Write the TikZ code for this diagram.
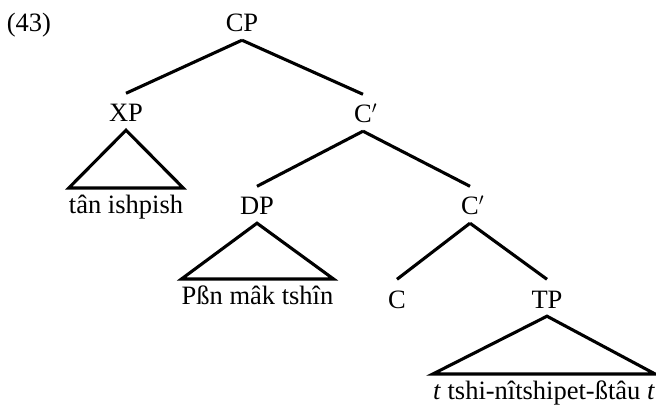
\documentclass[tikz,border=0pt]{standalone}
\usepackage{fontspec}
\setmainfont{Liberation Serif}
\begin{document}
\begin{tikzpicture}[x=1pt,y=-1pt,
  every node/.style={font=\fontsize{26.5}{30}\selectfont},
  cat/.style={inner sep=0pt, text height=28.5pt, text depth=8pt, anchor=base},
  leaf/.style={inner sep=0pt, text height=25.5pt, text depth=6pt, anchor=north},
  edge/.style={line width=3.1pt},
]
\useasboundingbox (0,0) rectangle (656,406);

% example number
\node[cat] (num) at (29,32) {(43)};

% category labels
\node[cat] (CP) at (242,32) {CP};
\node[cat] (XP) at (126,122) {XP};
\node[cat] (C1) at (363,123) {C\rlap{$'$}};
\node[cat] (DP) at (257,215) {DP};
\node[cat] (C2) at (470,215) {C\rlap{$'$}};
\node[cat] (C)  at (397,308) {C};
\node[cat] (TP) at (547,308) {TP};

% terminal strings under triangles
\node[leaf] (xpl) at (126,188) {tân ishpish};
\node[leaf] (dpl) at (257.5,279) {Pßn mâk tshîn};
\node[leaf] (tpl) at (544,374) {\textit{t} tshi-nîtshipet-ßtâu \textit{t}};

% branches
\draw[edge] (CP.south) -- (XP.north);
\draw[edge] (CP.south) -- (C1.north);
\draw[edge] (C1.south) -- (DP.north);
\draw[edge] (C1.south) -- (C2.north);
\draw[edge] (C2.south) -- (C.north);
\draw[edge] (C2.south) -- (TP.north);

% triangles
\draw[edge] (XP.south) -- (xpl.north west) -- (xpl.north east) -- cycle;
\draw[edge] (DP.south) -- (dpl.north west) -- (dpl.north east) -- cycle;
\draw[edge] (TP.south) -- (tpl.north west) -- (tpl.north east) -- cycle;
\end{tikzpicture}
\end{document}
